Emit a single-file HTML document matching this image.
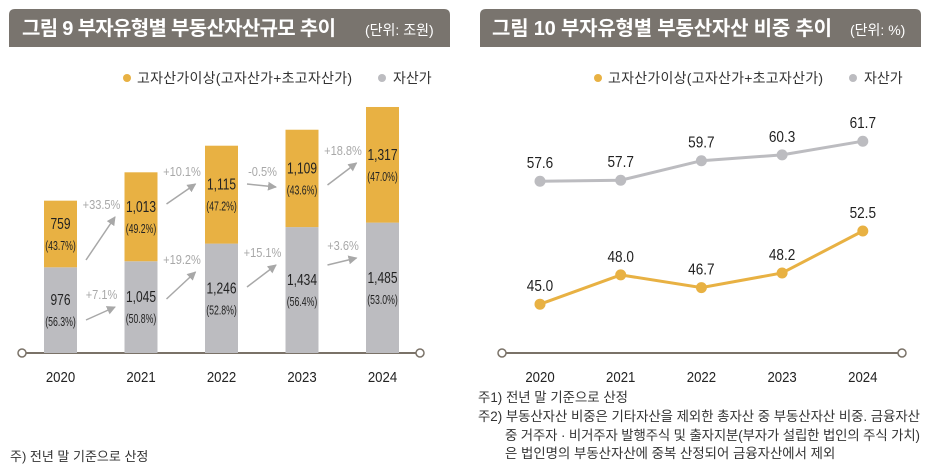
<!DOCTYPE html>
<html><head><meta charset="utf-8">
<style>
body{margin:0;width:930px;height:469px;background:#fff;overflow:hidden;font-family:"Liberation Sans","Noto Sans CJK KR",sans-serif}
svg text{font-family:"Liberation Sans","Noto Sans CJK KR",sans-serif}
</style></head><body>
<svg id="s" width="930" height="469" viewBox="0 0 930 469" xmlns="http://www.w3.org/2000/svg">
<defs><marker id="ah" markerWidth="9" markerHeight="9" refX="8" refY="4.5" orient="auto" markerUnits="userSpaceOnUse"><path d="M0,0 L9,4.5 L0,9 Z" fill="#a8a8a8"/></marker></defs>
<g>
<path d="M9,15 Q9,9 15,9 L444,9 Q450,9 450,15 L450,47 L9,47 Z" fill="#79746e"/>
<text x="22" y="35" fill="#fff" font-size="20" font-weight="bold" textLength="314">그림 9  부자유형별 부동산자산규모 추이</text>
<text x="365" y="35" fill="#fff" font-size="14">(단위: 조원)</text>
</g>
<g>
<path d="M480,15 Q480,9 486,9 L915,9 Q921,9 921,15 L921,47 L480,47 Z" fill="#79746e"/>
<text x="492" y="35" fill="#fff" font-size="20" font-weight="bold" textLength="340">그림 10  부자유형별 부동산자산 비중 추이</text>
<text x="850" y="35" fill="#fff" font-size="14">(단위: %)</text>
</g>
<g>
<circle cx="127" cy="78" r="4" fill="#e8b143"/><text x="137" y="83" font-size="14" fill="#333" textLength="215">고자산가이상(고자산가+초고자산가)</text>
<circle cx="382" cy="78" r="4" fill="#bcbcc0"/><text x="393" y="83" font-size="14" fill="#333">자산가</text>
</g>
<g>
<circle cx="598" cy="78" r="4" fill="#e8b143"/><text x="608" y="83" font-size="14" fill="#333" textLength="215">고자산가이상(고자산가+초고자산가)</text>
<circle cx="853" cy="78" r="4" fill="#bcbcc0"/><text x="864" y="83" font-size="14" fill="#333">자산가</text>
</g>
<g id="left"></g>
<g id="right"></g>
<text x="10" y="461" font-size="13" fill="#333">주) 전년 말 기준으로 산정</text>
<g font-size="13.4" fill="#333">
<text x="478" y="402">주1) 전년 말 기준으로 산정</text>
<text x="478" y="421" textLength="442">주2) 부동산자산 비중은 기타자산을 제외한 총자산 중 부동산자산 비중. 금융자산</text>
<text x="505" y="440" textLength="415">중 거주자 · 비거주자 발행주식 및 출자지분(부자가 설립한 법인의 주식 가치)</text>
<text x="505" y="458">은 법인명의 부동산자산에 중복 산정되어 금융자산에서 제외</text>
</g>
</svg>
<script>
const years=["2020","2021","2022","2023","2024"];
const grayVals=[976,1045,1246,1434,1485];
const yellowVals=[759,1013,1115,1109,1317];
const grayPct=["56.3%","50.8%","52.8%","56.4%","53.0%"];
const yellowPct=["43.7%","49.2%","47.2%","43.6%","47.0%"];
const grayGrowth=["+7.1%","+19.2%","+15.1%","+3.6%"];
const yellowGrowth=["+33.5%","+10.1%","-0.5%","+18.8%"];
const shareYears=["2020","2021","2022","2023","2024"];
const shareHigh=[45.0,48.0,46.7,48.2,52.5];
const shareAsset=[57.6,57.7,59.7,60.3,61.7];
// decorative arrow endpoints (y start, y end) for growth annotations
const lowerArrowY=[[320,307],[299,272],[287,265],[265,258]];
const upperArrowY=[[260,217],[204,184],[184,187],[185,163]];

const NS="http://www.w3.org/2000/svg";
function mk(p,t,a){const e=document.createElementNS(NS,t);for(const k in a)e.setAttribute(k,a[k]);p.appendChild(e);return e;}
const L=document.getElementById('left'),R=document.getElementById('right');
const lx=i=>60.5+i*80.5, ly=v=>353-v*0.0878;
function fmt(v){return v.toLocaleString('en-US');}
let ax=mk(L,'line',{x1:22,y1:353,x2:420,y2:353,stroke:'#7a7268','stroke-width':2});


[22,420].forEach(x=>{const c=mk(L,'circle',{cx:x,cy:353,r:4,fill:'#fff',stroke:'#7a7268','stroke-width':1.5});

});
years.forEach((y,i)=>{
 const x=lx(i),gt=ly(grayVals[i]),yt=ly(grayVals[i]+yellowVals[i]);
 const g=mk(L,'rect',{x:x-16.5,y:gt,width:33,height:353-gt,fill:'#bcbcc0'});
 
 
 const b=mk(L,'rect',{x:x-16.5,y:yt,width:33,height:gt-yt,fill:'#e8b143'});
 
 
 const gc=(gt+353)/2,yc=(yt+gt)/2;
 [[fmt(grayVals[i]),gc-5,16,0.75],["("+grayPct[i]+")",gc+16,12.5,0.7],[fmt(yellowVals[i]),yc-5,16,0.75],["("+yellowPct[i]+")",yc+16,12.5,0.7]].forEach(([t,yy,fs,sx])=>{
  const e=mk(L,'text',{transform:`translate(${x},${yy}) scale(${sx},1)`,'text-anchor':'middle','font-size':fs,fill:'#222'});e.textContent=t;
  
  });
 const yl=mk(L,'text',{transform:`translate(${x},382) scale(0.88,1)`,'text-anchor':'middle','font-size':15,fill:'#222'});yl.textContent=y;
 
 
});
for(let i=0;i<4;i++){
 const x0=lx(i)+25.5,x1=lx(i+1)-26;
 [[lowerArrowY[i],grayGrowth[i],'asset'],[upperArrowY[i],yellowGrowth[i],'high-asset']].forEach(([yy,t,n])=>{
  const l=mk(L,'line',{x1:x0,y1:yy[0],x2:x1,y2:yy[1],stroke:'#a8a8a8','stroke-width':1.5,'marker-end':'url(#ah)'});
  
  
  const tx=mk(L,'text',{transform:`translate(${(x0+x1)/2+1},${Math.min(yy[0],yy[1])-8}) scale(0.85,1)`,'text-anchor':'middle','font-size':13,fill:'#a8a8a8'});tx.textContent=t;
  
  
 });
}
const rx=i=>540+i*80.7, ry=v=>353-(v-40)*9.76;
let ax2=mk(R,'line',{x1:502,y1:353,x2:902,y2:353,stroke:'#7a7268','stroke-width':2});


[502,902].forEach(x=>{const c=mk(R,'circle',{cx:x,cy:353,r:4,fill:'#fff',stroke:'#7a7268','stroke-width':1.5});

});
[[shareAsset,'#bcbcc0','asset'],[shareHigh,'#e8b143','high-asset']].forEach(([arr,col,n])=>{
 const pl=mk(R,'polyline',{points:arr.map((v,i)=>rx(i)+','+ry(v)).join(' '),fill:'none',stroke:col,'stroke-width':3});
 
 
 arr.forEach((v,i)=>{
  const c=mk(R,'circle',{cx:rx(i),cy:ry(v),r:5.5,fill:col});
  
  
  const t=mk(R,'text',{transform:`translate(${rx(i)},${ry(v)-13}) scale(0.85,1)`,'text-anchor':'middle','font-size':16,fill:'#222'});t.textContent=v.toFixed(1);
  
  
 });
});
shareYears.forEach((y,i)=>{const t=mk(R,'text',{transform:`translate(${rx(i)},382) scale(0.88,1)`,'text-anchor':'middle','font-size':15,fill:'#222'});t.textContent=y;
 
 });
</script>
</body></html>
